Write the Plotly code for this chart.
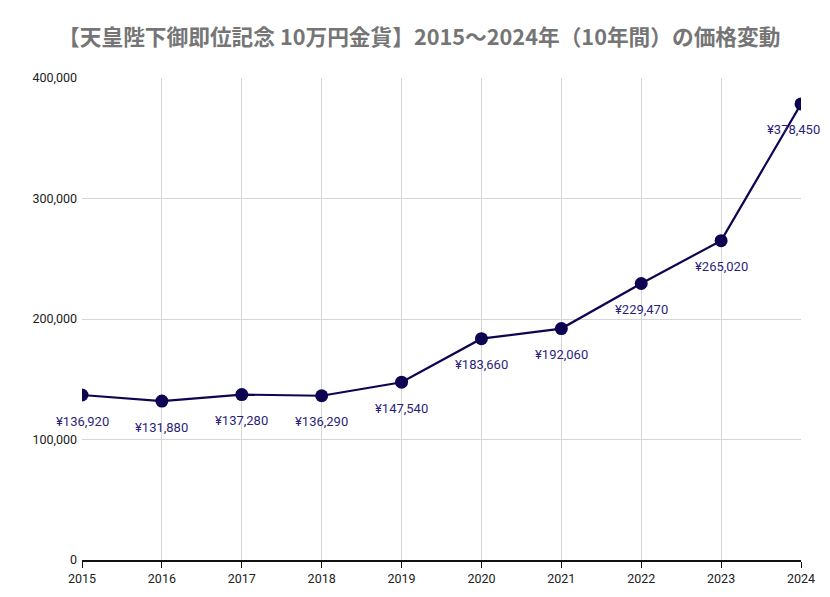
import plotly.graph_objects as go

years = [2015, 2016, 2017, 2018, 2019, 2020, 2021, 2022, 2023, 2024]
prices = [136920, 131880, 137280, 136290, 147540, 183660, 192060, 229470, 265020, 378450]
y_ticks = [0, 100000, 200000, 300000, 400000]
title_text = "【天皇陛下御即位記念 10万円金貨】2015～2024年（10年間）の価格変動"

line_color = "#0d0552"
label_color = "#2b1f7a"

fig = go.Figure()
fig.add_trace(go.Scatter(
    x=years, y=prices, mode="lines+markers",
    line=dict(color=line_color, width=2.2),
    marker=dict(color=line_color, size=13),
    hoverinfo="skip", showlegend=False,
))

# price labels under each point (last one nudged left so it stays on the page)
for i, (yr, p) in enumerate(zip(years, prices)):
    fig.add_annotation(
        x=yr, y=p, text="¥{:,}".format(p), showarrow=False,
        yshift=-26, xshift=-8 if i == len(years) - 1 else 0,
        font=dict(family="Roboto", size=13, color=label_color),
    )

# page body adds an 8px offset, so margins are trimmed by that much
fig.update_layout(
    width=830, height=597,
    margin=dict(l=74, r=37, t=70, b=45, autoexpand=False),
    paper_bgcolor="white", plot_bgcolor="white",
    title=dict(text="<b>" + title_text + "</b>", x=0.4955, xanchor="center", y=0.95, yanchor="middle",
               font=dict(family="Noto Sans CJK JP", size=21.7, color="#757575")),
    font=dict(family="Roboto", size=12.5, color="#222222"),
)
fig.update_xaxes(
    range=[2015, 2024], tickvals=years, ticktext=[str(y) for y in years],
    showgrid=True, gridcolor="#d6d6d6", gridwidth=1,
    showline=True, linecolor="#111111", linewidth=1.5,
    ticks="outside", ticklen=6, tickcolor="#111111", zeroline=False,
)
fig.update_yaxes(
    range=[0, 400000], tickvals=y_ticks, ticktext=["{:,}".format(v) for v in y_ticks],
    showgrid=True, gridcolor="#d6d6d6", gridwidth=1,
    showline=False, zeroline=False, ticks="", ticklabelstandoff=4,
)

fig.write_html("out.html")
